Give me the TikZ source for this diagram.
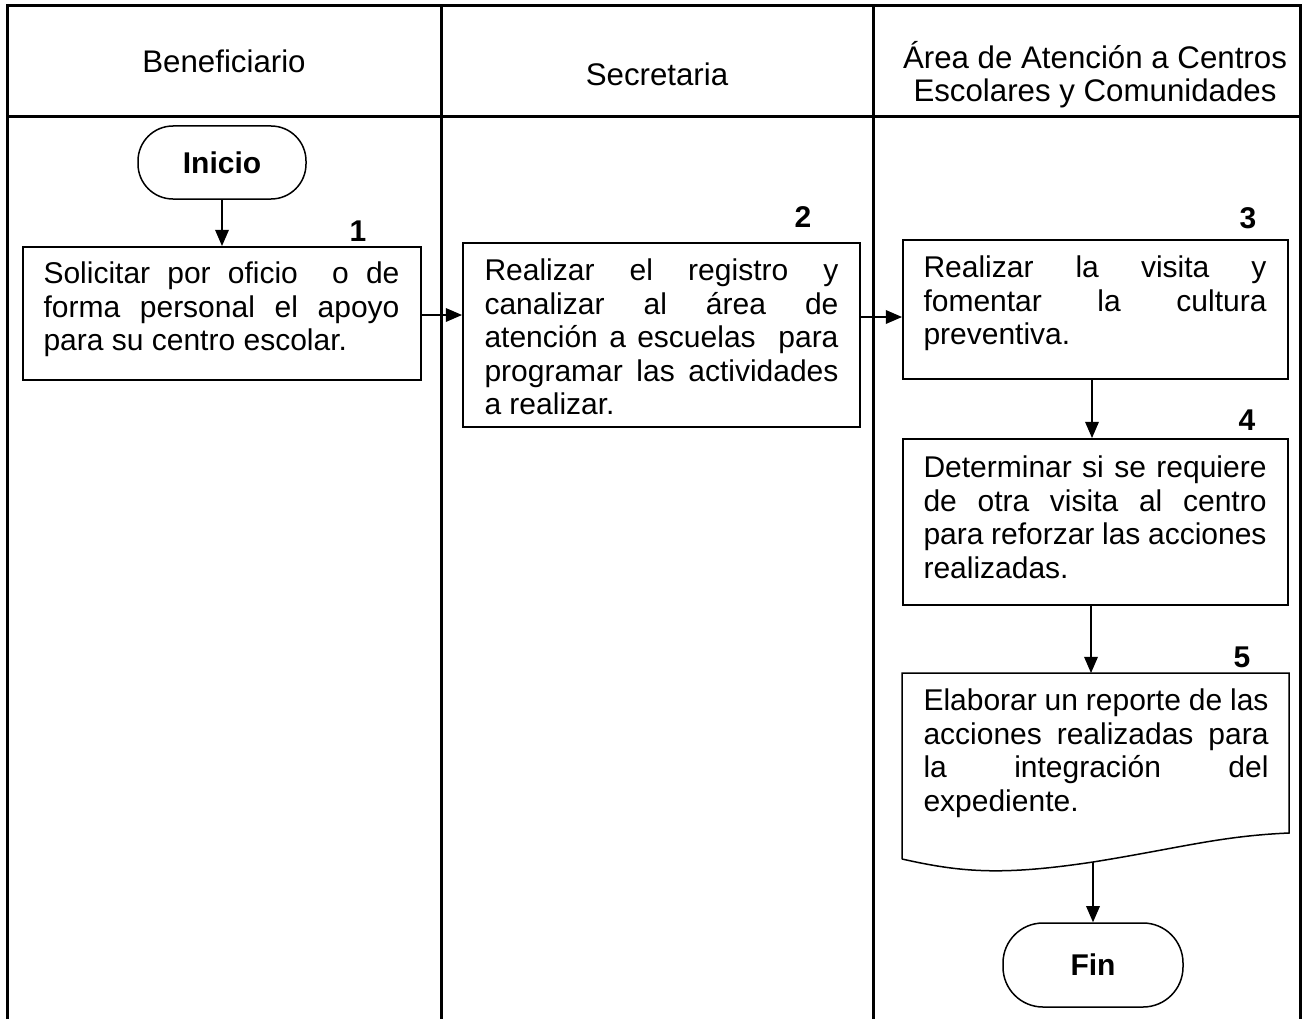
\documentclass[tikz,border=0pt]{standalone}
\usepackage{fontspec}
\setmainfont{Liberation Sans}
\usetikzlibrary{arrows.meta}
\begin{document}
\begin{tikzpicture}[x=0.4pt,y=-0.4pt,
  frame/.style={line width=1.2pt},
  stepbox/.style={draw,line width=0.6pt,rectangle,inner sep=0,anchor=north west},
  boxtext/.style={inner sep=0,anchor=north west,align=justify,
    font=\fontsize{12}{13.4}\selectfont},
  num/.style={inner sep=0,font=\fontsize{12}{13.4}\selectfont\bfseries},
  hdr/.style={inner sep=0,anchor=base,font=\fontsize{12.5}{14}\selectfont},
  term/.style={draw,line width=0.6pt,rectangle,rounded corners=14pt,inner sep=0,
    font=\fontsize{12}{13.4}\selectfont\bfseries},
  flow/.style={line width=0.5pt,-{Triangle[length=6.5pt,width=5.5pt]}},
  link/.style={line width=0.5pt}]
\useasboundingbox (0,0) rectangle (1305,1019);
% frame
\draw[frame] (7.5,1019) -- (7.5,6) -- (1300,6) -- (1300,1019);
\draw[frame] (7.5,116.5) -- (1300,116.5);
\draw[frame] (441,6) -- (441,1019);
\draw[frame] (873,6) -- (873,1019);
% headers
\node[hdr] (h1) at (224,73) {Beneficiario};
\node[hdr] (h2) at (657,86) {Secretaria};
\node[hdr] (h3a) at (1095,69) {Área de Atención a Centros};
\node[hdr] (h3b) at (1095,102) {Escolares y Comunidades};
% terminals
\node[term,minimum width=67.2pt,minimum height=29.2pt] (ini) at (222,162.5) {Inicio};
\node[term,minimum width=72pt,minimum height=33.6pt,rounded corners=16pt] (fin) at (1093,965) {Fin};
% boxes
\node[stepbox,minimum width=159.2pt,minimum height=53.2pt] (b1) at (22,246) {};
\node[stepbox,minimum width=158.8pt,minimum height=73.6pt] (b2) at (462,242) {};
\node[stepbox,minimum width=154pt,minimum height=55.6pt] (b3) at (902,239) {};
\node[stepbox,minimum width=154pt,minimum height=66.4pt] (b4) at (902,438) {};
\node[inner sep=0,anchor=north west,minimum width=154.8pt,minimum height=64pt] (b5) at (902,673) {};
\draw[line width=0.6pt] (902,859) -- (902,673) -- (1289,673) -- (1289,833)
  .. controls (1220,836) and (1180,848) .. (1093,862)
  .. controls (1000,876) and (960,872) .. (902,859);
\coordinate (b5out) at (1093,862);
% texts
\node[boxtext,text width=142.4pt] (t1) at (43,261.5) {Solicitar por oficio \ o de\linebreak forma personal el apoyo\linebreak para su centro escolar.};
\node[boxtext,text width=141.6pt] (t2) at (484,258.5) {Realizar el registro y\linebreak canalizar al área de\linebreak atención a escuelas \ para\linebreak programar las actividades\linebreak a realizar.};
\node[boxtext,text width=137.2pt] (t3) at (923,255.5) {Realizar la visita y\linebreak fomentar la cultura\linebreak preventiva.};
\node[boxtext,text width=137.2pt] (t4) at (923,455.5) {Determinar si se requiere\linebreak de otra visita al centro\linebreak para reforzar las acciones\linebreak realizadas.};
\node[boxtext,text width=138pt] (t5) at (923,688.5) {Elaborar un reporte de las\linebreak acciones realizadas para\linebreak la integración del\linebreak expediente.};
% numbers
\node[num] (n1) at (358,231) {1};
\node[num] (n2) at (803,217) {2};
\node[num] (n3) at (1248,218) {3};
\node[num] (n4) at (1247,420) {4};
\node[num] (n5) at (1242,657) {5};
% connectors
\draw[flow] (ini.south) -- (ini.south |- b1.north);
\draw[flow] (b1.east |- 0,315) -- (b2.west |- 0,315);
\draw[flow] (b2.east |- 0,317) -- (b3.west |- 0,317);
\draw[flow] (b3.south -| 1092,0) -- (b4.north -| 1092,0);
\draw[flow] (b4.south -| 1091,0) -- (b5.north -| 1091,0);
\draw[flow] (b5out) -- (fin.north);
\end{tikzpicture}
\end{document}
